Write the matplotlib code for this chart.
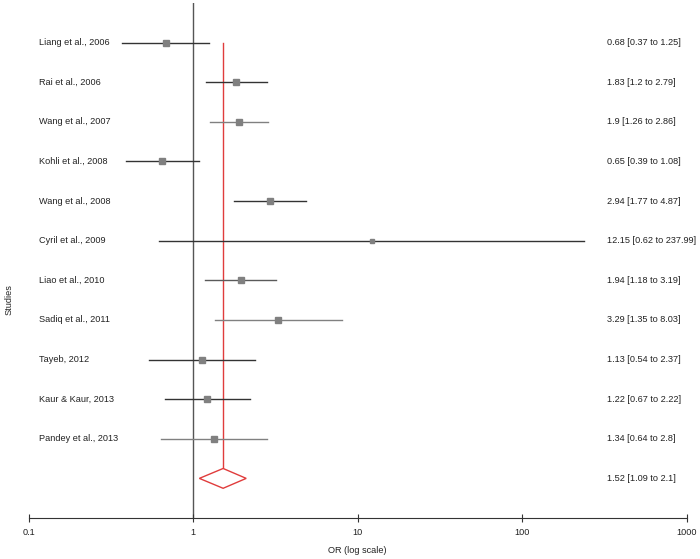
import matplotlib
matplotlib.use("Agg")
import numpy as np
from matplotlib import pyplot as plt

plt.rcParams["font.family"] = ["Liberation Sans", "DejaVu Sans"]

studies = ["Liang et al., 2006", "Rai et al., 2006", "Wang et al., 2007",
           "Kohli et al., 2008", "Wang et al., 2008", "Cyril et al., 2009",
           "Liao et al., 2010", "Sadiq et al., 2011", "Tayeb, 2012",
           "Kaur & Kaur, 2013", "Pandey et al., 2013"]
odds = [0.68, 1.83, 1.9, 0.65, 2.94, 12.15, 1.94, 3.29, 1.13, 1.22, 1.34]
lower = [0.37, 1.2, 1.26, 0.39, 1.77, 0.62, 1.18, 1.35, 0.54, 0.67, 0.64]
upper = [1.25, 2.79, 2.86, 1.08, 4.87, 237.99, 3.19, 8.03, 2.37, 2.22, 2.8]
pooled = 1.52
pooled_lo = 1.09
pooled_hi = 2.1

# styling per row (line shade, marker size)
line_cols = ["#333333", "#333333", "#808080", "#333333", "#333333", "#333333",
             "#5a5a5a", "#808080", "#333333", "#333333", "#808080"]
msizes = [5, 5, 5, 4.5, 4.5, 3, 5, 5, 4.5, 4.5, 5]

fs = 6.6
txt_col = "#222222"
ax_left = 28.7 / 700
ax_w = 658 / 700
right_x = (607 - 28.7) / 658
left_x = (39 - 28.7) / 658

fig = plt.figure(figsize=(7, 5.59), dpi=100)
ax = fig.add_axes([ax_left, 41 / 559, ax_w, 515 / 559])
ax.set_xscale("log")
ax.set_xlim(0.1, 1000)
n = len(studies)
ax.set_ylim(n + 1, -1)

rows = np.arange(n)
ax.axvline(1, color="#555555", lw=1, zorder=1)
ax.plot([pooled, pooled], [0, n - 0.25], color="#e03c3c", lw=1, zorder=2)

for i in rows:
    ax.plot([lower[i], upper[i]], [i, i], color=line_cols[i], lw=1, zorder=3)
    ax.plot(odds[i], i, marker="s", ms=msizes[i], color="#808080", mec="#808080", zorder=4)
    ax.text(right_x, i, f"{odds[i]} [{lower[i]} to {upper[i]}]",
            transform=ax.get_yaxis_transform(), fontsize=fs, va="center",
            ha="left", color=txt_col)
    ax.text(left_x, i, studies[i], transform=ax.get_yaxis_transform(),
            fontsize=fs, va="center", ha="left", color=txt_col)

# pooled diamond
ax.fill([pooled_lo, pooled, pooled_hi, pooled], [n, n - 0.25, n, n + 0.25],
        facecolor="white", edgecolor="#e03c3c", lw=1, zorder=5)
ax.text(right_x, n, f"{pooled} [{pooled_lo} to {pooled_hi}]",
        transform=ax.get_yaxis_transform(), fontsize=fs, va="center",
        ha="left", color=txt_col)

for s in ["top", "right", "left"]:
    ax.spines[s].set_visible(False)
ax.spines["bottom"].set_color("#333333")
ax.set_yticks([])
ax.set_xticks([0.1, 1, 10, 100, 1000])
ax.set_xticklabels(["0.1", "1", "10", "100", "1000"])
ax.xaxis.set_minor_locator(matplotlib.ticker.NullLocator())
ax.tick_params(axis="x", direction="inout", length=6, labelsize=fs, colors="#333333",
               labelcolor=txt_col, pad=4)
ax.set_xlabel("OR (log scale)", fontsize=fs, color=txt_col, labelpad=7)
fig.text(9 / 700, 1 - 300 / 559, "Studies", rotation=90, fontsize=fs,
         va="center", ha="center", color=txt_col)

fig.savefig("out.png", dpi=100)
